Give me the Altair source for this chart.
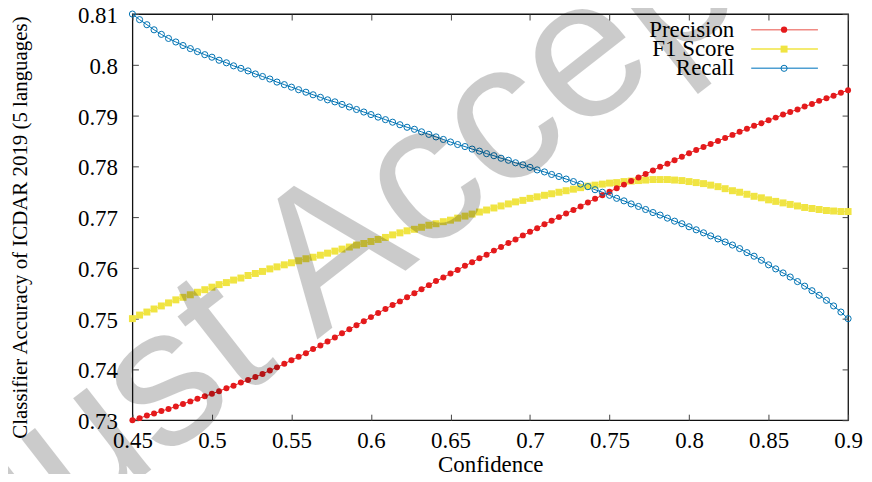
import altair as alt
import pandas as pd

conf = [
    0.4500, 0.4545, 0.4591, 0.4636, 0.4682, 0.4727, 0.4773, 0.4818, 0.4864, 0.4909, 0.4955,
    0.5000, 0.5045, 0.5091, 0.5136, 0.5182, 0.5227, 0.5273, 0.5318, 0.5364, 0.5409, 0.5455,
    0.5500, 0.5545, 0.5591, 0.5636, 0.5682, 0.5727, 0.5773, 0.5818, 0.5864, 0.5909, 0.5955,
    0.6000, 0.6045, 0.6091, 0.6136, 0.6182, 0.6227, 0.6273, 0.6318, 0.6364, 0.6409, 0.6455,
    0.6500, 0.6545, 0.6591, 0.6636, 0.6682, 0.6727, 0.6773, 0.6818, 0.6864, 0.6909, 0.6955,
    0.7000, 0.7045, 0.7091, 0.7136, 0.7182, 0.7227, 0.7273, 0.7318, 0.7364, 0.7409, 0.7455,
    0.7500, 0.7545, 0.7591, 0.7636, 0.7682, 0.7727, 0.7773, 0.7818, 0.7864, 0.7909, 0.7955,
    0.8000, 0.8045, 0.8091, 0.8136, 0.8182, 0.8227, 0.8273, 0.8318, 0.8364, 0.8409, 0.8455,
    0.8500, 0.8545, 0.8591, 0.8636, 0.8682, 0.8727, 0.8773, 0.8818, 0.8864, 0.8909, 0.8955,
    0.9000,
]

precision = [
    0.7300, 0.7304, 0.7309, 0.7313, 0.7318, 0.7322, 0.7327, 0.7332, 0.7337, 0.7342, 0.7347,
    0.7352, 0.7357, 0.7363, 0.7368, 0.7374, 0.7379, 0.7385, 0.7391, 0.7398, 0.7404, 0.7411,
    0.7418, 0.7425, 0.7432, 0.7440, 0.7447, 0.7455, 0.7463, 0.7471, 0.7479, 0.7487, 0.7495,
    0.7503, 0.7511, 0.7519, 0.7527, 0.7534, 0.7542, 0.7550, 0.7558, 0.7566, 0.7574, 0.7581,
    0.7589, 0.7596, 0.7604, 0.7611, 0.7619, 0.7626, 0.7634, 0.7641, 0.7649, 0.7656, 0.7664,
    0.7671, 0.7678, 0.7686, 0.7693, 0.7700, 0.7707, 0.7714, 0.7721, 0.7729, 0.7736, 0.7743,
    0.7750, 0.7757, 0.7764, 0.7771, 0.7778, 0.7785, 0.7792, 0.7799, 0.7805, 0.7812, 0.7819,
    0.7826, 0.7832, 0.7838, 0.7844, 0.7850, 0.7856, 0.7862, 0.7868, 0.7874, 0.7880, 0.7885,
    0.7891, 0.7896, 0.7902, 0.7907, 0.7912, 0.7918, 0.7923, 0.7929, 0.7934, 0.7939, 0.7945,
    0.7950,
]

f1_score = [
    0.7500, 0.7507, 0.7513, 0.7519, 0.7525, 0.7531, 0.7537, 0.7542, 0.7547, 0.7552, 0.7557,
    0.7562, 0.7567, 0.7571, 0.7576, 0.7580, 0.7585, 0.7589, 0.7593, 0.7598, 0.7602, 0.7606,
    0.7610, 0.7614, 0.7618, 0.7621, 0.7625, 0.7629, 0.7633, 0.7637, 0.7641, 0.7645, 0.7648,
    0.7652, 0.7656, 0.7660, 0.7665, 0.7669, 0.7673, 0.7676, 0.7680, 0.7684, 0.7687, 0.7691,
    0.7694, 0.7698, 0.7702, 0.7706, 0.7710, 0.7714, 0.7718, 0.7722, 0.7726, 0.7730, 0.7733,
    0.7737, 0.7740, 0.7743, 0.7746, 0.7749, 0.7752, 0.7755, 0.7758, 0.7761, 0.7763, 0.7765,
    0.7767, 0.7768, 0.7770, 0.7771, 0.7772, 0.7773, 0.7774, 0.7774, 0.7774, 0.7773, 0.7772,
    0.7770, 0.7768, 0.7766, 0.7763, 0.7760, 0.7756, 0.7752, 0.7749, 0.7745, 0.7741, 0.7738,
    0.7734, 0.7731, 0.7728, 0.7725, 0.7722, 0.7719, 0.7717, 0.7715, 0.7713, 0.7712, 0.7711,
    0.7711,
]

recall = [
    0.8100, 0.8089, 0.8079, 0.8069, 0.8060, 0.8052, 0.8045, 0.8038, 0.8032, 0.8026, 0.8020,
    0.8015, 0.8009, 0.8004, 0.7998, 0.7993, 0.7988, 0.7982, 0.7977, 0.7972, 0.7966, 0.7961,
    0.7956, 0.7951, 0.7946, 0.7941, 0.7936, 0.7931, 0.7927, 0.7922, 0.7917, 0.7912, 0.7907,
    0.7902, 0.7897, 0.7892, 0.7887, 0.7882, 0.7877, 0.7873, 0.7868, 0.7863, 0.7858, 0.7853,
    0.7848, 0.7843, 0.7839, 0.7834, 0.7830, 0.7825, 0.7821, 0.7816, 0.7812, 0.7807, 0.7803,
    0.7798, 0.7793, 0.7789, 0.7784, 0.7780, 0.7775, 0.7770, 0.7765, 0.7760, 0.7754, 0.7749,
    0.7743, 0.7737, 0.7732, 0.7726, 0.7721, 0.7715, 0.7709, 0.7704, 0.7698, 0.7692, 0.7687,
    0.7681, 0.7675, 0.7669, 0.7663, 0.7657, 0.7651, 0.7645, 0.7638, 0.7630, 0.7623, 0.7615,
    0.7606, 0.7598, 0.7590, 0.7582, 0.7573, 0.7564, 0.7555, 0.7546, 0.7536, 0.7525, 0.7513,
    0.7500,
]

series_names = ["Precision", "F1 Score", "Recall"]
series_colors = ["#e41a1c", "#f0e442", "#0072b2"]
legend_line_colors = ["#f08a84", "#f0e442", "#4f9fd2"]
x_ticks = [0.45, 0.5, 0.55, 0.6, 0.65, 0.7, 0.75, 0.8, 0.85, 0.9]
y_ticks = [0.73, 0.74, 0.75, 0.76, 0.77, 0.78, 0.79, 0.8, 0.81]
x_title = "Confidence"
y_title = "Classifier Accuracy of ICDAR 2019 (5 languages)"
watermark = "Just Accepted"

rows = []
for name, vals in zip(series_names, [precision, f1_score, recall]):
    for c, v in zip(conf, vals):
        rows.append({"conf": c, "value": v, "series": name})
df = pd.DataFrame(rows)

FONT = "Liberation Serif"
x_scale = alt.Scale(domain=[x_ticks[0], x_ticks[-1]], nice=False, zero=False)
y_scale = alt.Scale(domain=[y_ticks[0], y_ticks[-1]], nice=False, zero=False)
color_scale = alt.Scale(domain=series_names, range=series_colors)
inward = alt.ExprRef(expr="-6")

ax_bottom = alt.Axis(orient="bottom", values=x_ticks, format="~g", title=x_title,
                     tickSize=inward, labelPadding=33, labelBaseline="alphabetic",
                     labelFlush=False, labelFont=FONT, labelFontSize=23,
                     titleFont=FONT, titleFontSize=23, titleY=52,
                     titleBaseline="alphabetic")
ax_left = alt.Axis(orient="left", values=y_ticks, format="~g", title=y_title,
                   tickSize=inward, labelPadding=21, labelFlush=False, labelOffset=1.5,
                   labelFont=FONT, labelFontSize=23, titleFont=FONT, titleFontSize=21,
                   titleX=-106, titleY=214, titleBaseline="alphabetic", titleAngle=270)
ax_top = alt.Axis(orient="top", values=x_ticks, labels=False, title=None, tickSize=inward)
ax_right = alt.Axis(orient="right", values=y_ticks, labels=False, title=None, tickSize=inward)

lines = alt.Chart(df).mark_line(strokeWidth=1).encode(
    x=alt.X("conf:Q", scale=x_scale, axis=ax_bottom),
    y=alt.Y("value:Q", scale=y_scale, axis=ax_left),
    color=alt.Color("series:N", scale=color_scale, legend=None),
)


def points(name, shape, filled, size, axes=False):
    return alt.Chart(df).transform_filter(alt.datum.series == name).mark_point(
        shape=shape, filled=filled, size=size, strokeWidth=1, opacity=1
    ).encode(
        x=alt.X("conf:Q", scale=x_scale, axis=ax_top if axes else None),
        y=alt.Y("value:Q", scale=y_scale, axis=ax_right if axes else None),
        color=alt.Color("series:N", scale=color_scale, legend=None),
    )


p_f1 = points("F1 Score", "square", True, 49, axes=True)
p_prec = points("Precision", "circle", True, 36)
p_rec = points("Recall", "circle", False, 38)

# legend (label on the left, line sample with marker on the right, as in gnuplot)
legend_rows_y = [15.7, 35.2, 54.5]
legend_marks = [("circle", True, 40), ("square", True, 49), ("circle", False, 38)]
legend_layers = []
for i, name in enumerate(series_names):
    ldf = pd.DataFrame({"label": [name]})
    yv = legend_rows_y[i]
    shape, filled, size = legend_marks[i]
    legend_layers.append(
        alt.Chart(ldf).mark_text(font=FONT, fontSize=23, color="black", align="right",
                                 baseline="middle").encode(
            text="label:N", x=alt.value(604.7), y=alt.value(yv))
    )
    legend_layers.append(
        alt.Chart(ldf).mark_rule(color=legend_line_colors[i], strokeWidth=1.5).encode(
            x=alt.value(621.7), x2=alt.value(688.7), y=alt.value(yv))
    )
    legend_layers.append(
        alt.Chart(ldf).mark_point(shape=shape, filled=filled, size=size, strokeWidth=1,
                                  opacity=1, color=series_colors[i]).encode(
            x=alt.value(654.7), y=alt.value(yv))
    )

wm = alt.Chart(pd.DataFrame({"t": [watermark]})).mark_text(
    font="Liberation Sans", fontSize=198, angle=322, color="black", opacity=0.2,
    align="center", baseline="middle"
).encode(text="t:N", x=alt.value(314), y=alt.value(152))

chart = alt.layer(lines, p_f1, p_prec, p_rec, *legend_layers, wm).resolve_axis(
    x="independent", y="independent"
).properties(
    width=719, height=408,
    autosize=alt.AutoSizeParams(type="none"),
    padding={"left": 125, "top": 5, "right": 16, "bottom": 53},
).configure_view(stroke="#111111", strokeWidth=1.3).configure_axis(
    labelFont=FONT, labelFontSize=23, labelColor="black",
    titleFont=FONT, titleFontSize=23, titleFontWeight="normal", titleColor="black",
    tickColor="#444444", tickWidth=1, grid=False, domain=False,
)

chart.save("out.html", embed_options={"renderer": "svg", "actions": False})
